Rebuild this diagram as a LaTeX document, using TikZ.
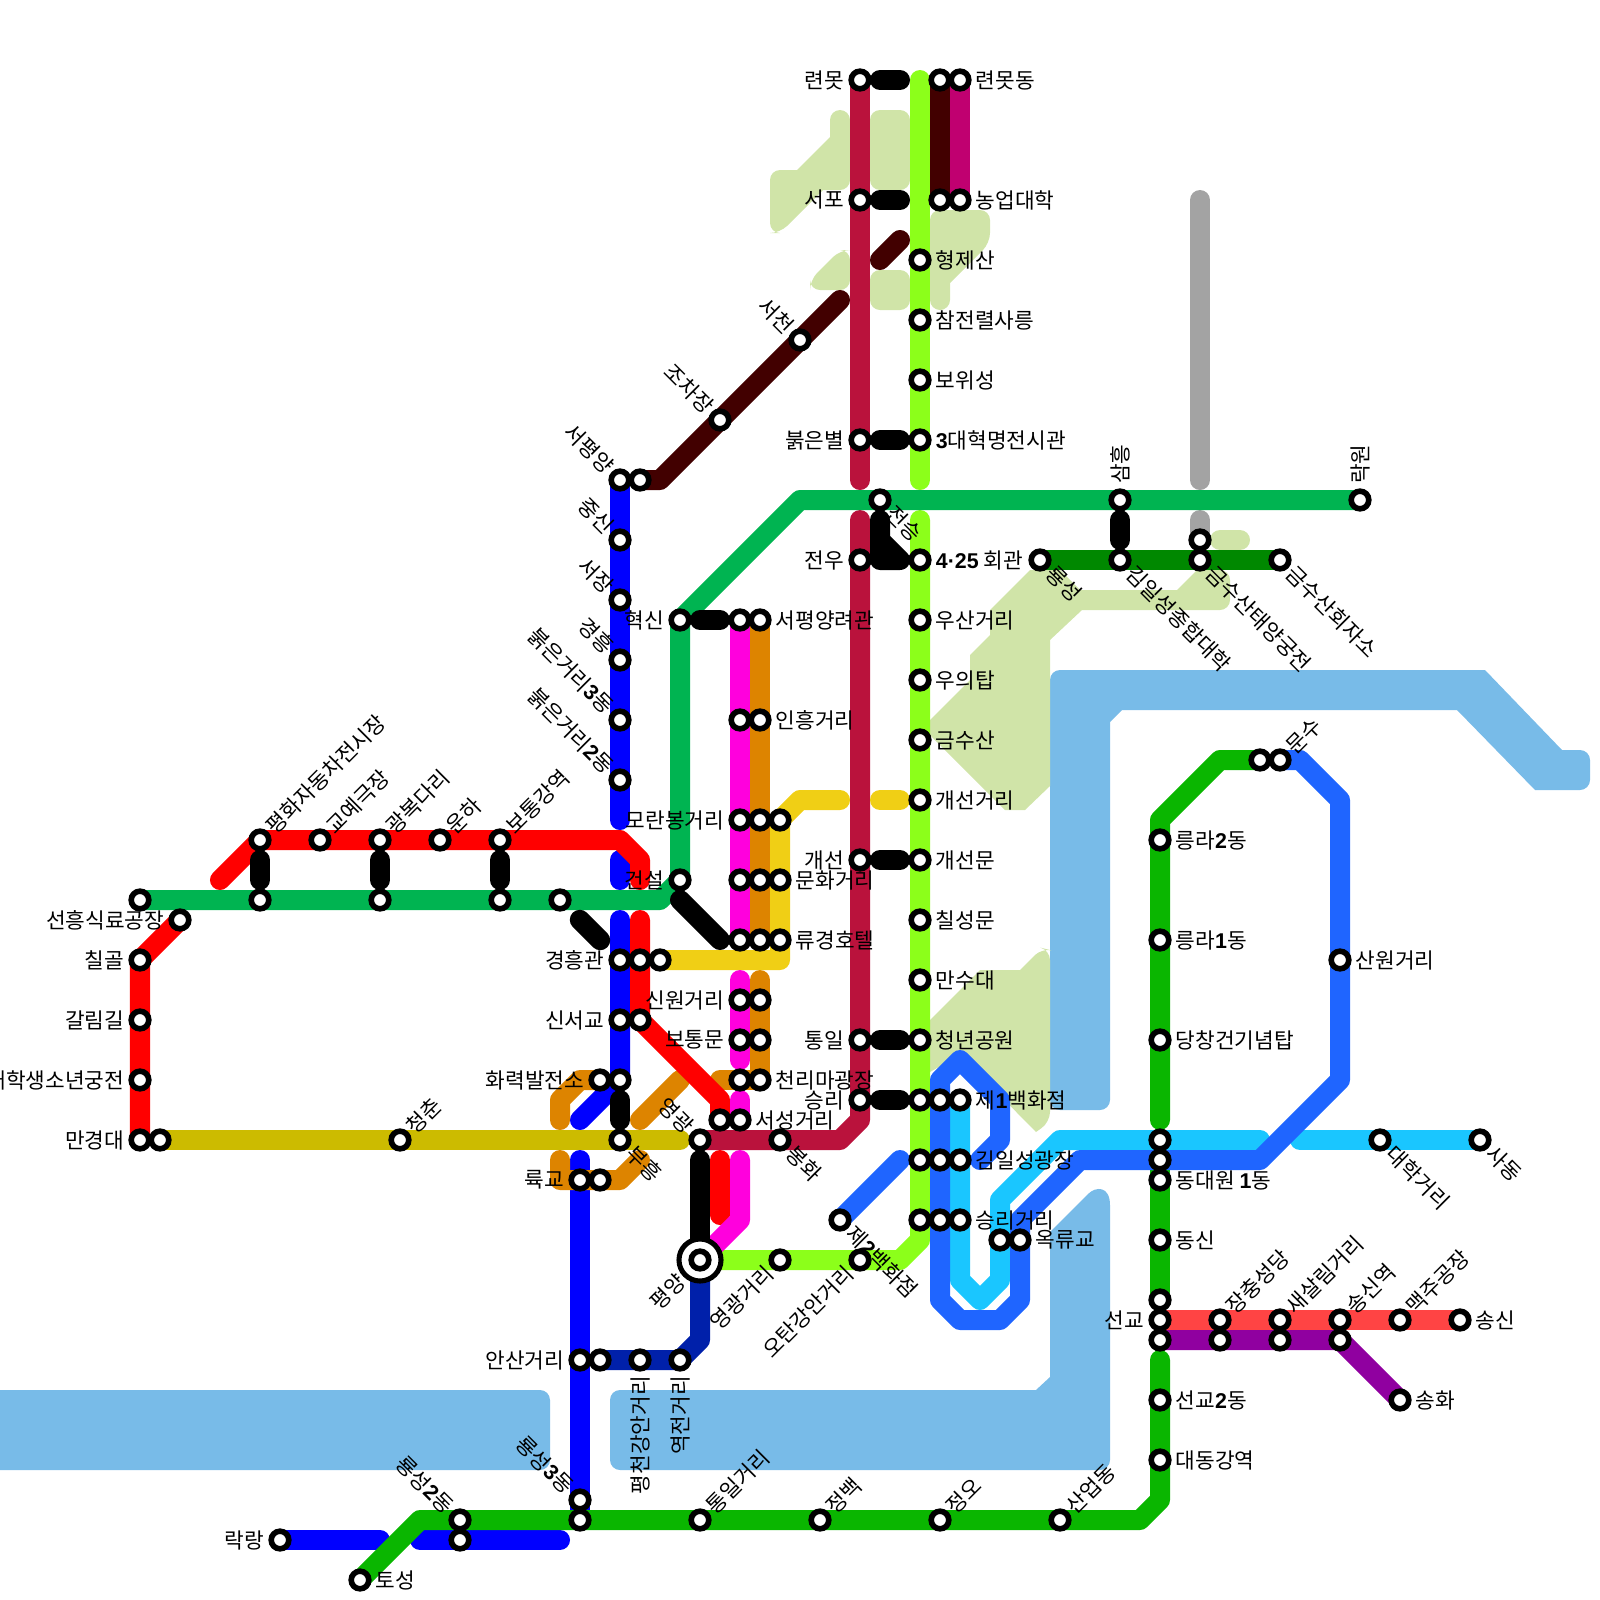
\documentclass[tikz,border=0pt]{standalone}
\usepackage{fontspec}
\setmainfont{Noto Sans CJK KR}
\newfontfamily\latnfont{Liberation Sans}
\newcommand{\dgt}[1]{{\latnfont\bfseries #1}}
\usetikzlibrary{backgrounds}
\definecolor{water}{RGB}{120,187,232}
\definecolor{park}{RGB}{208,228,168}
\definecolor{crimsonln}{RGB}{186,18,60}
\definecolor{limeln}{RGB}{140,255,26}
\definecolor{maroonln}{RGB}{66,0,0}
\definecolor{plumln}{RGB}{192,0,112}
\definecolor{greenln}{RGB}{0,180,81}
\definecolor{blueln}{RGB}{0,0,255}
\definecolor{redln}{RGB}{255,0,0}
\definecolor{magentaln}{RGB}{255,0,221}
\definecolor{orangeln}{RGB}{221,132,0}
\definecolor{yellowln}{RGB}{240,207,21}
\definecolor{oliveln}{RGB}{204,187,0}
\definecolor{royalln}{RGB}{31,101,255}
\definecolor{cyanln}{RGB}{26,198,255}
\definecolor{forestln}{RGB}{0,136,0}
\definecolor{grassln}{RGB}{10,182,0}
\definecolor{coralln}{RGB}{255,68,68}
\definecolor{purpleln}{RGB}{144,0,160}
\definecolor{navyln}{RGB}{0,32,170}
\definecolor{grayln}{RGB}{163,163,163}

\begin{document}
\begin{tikzpicture}[x=0.025cm, y=-0.025cm,
	st/.style={circle, draw=black, fill=white, line width=4pt, inner sep=0pt, minimum size=0.44cm},
	stbig/.style={circle, draw=black, fill=white, line width=3.6pt, inner sep=0pt, minimum size=1.05cm},
	ln/.style={line width=0.5cm, line cap=round, line join=round},
	lnk/.style={ln, black, shorten >=0.5cm, shorten <=0.5cm},
	lbl/.style={inner sep=0pt, font=\fontsize{15.2pt}{17pt}\selectfont},
	lblR/.style={lbl, anchor=west, xshift=0.39cm},
	lblL/.style={lbl, anchor=east, xshift=-0.39cm},
	lblUR/.style={lbl, anchor=west, xshift=0.25cm, yshift=0.25cm, rotate=45},
	lblDR/.style={lbl, anchor=west, xshift=0.25cm, yshift=-0.25cm, rotate=-45},
	lblUL/.style={lbl, anchor=east, xshift=-0.25cm, yshift=0.25cm, rotate=-45},
	lblDL/.style={lbl, anchor=east, xshift=-0.25cm, yshift=-0.25cm, rotate=45},
	lblUp/.style={lbl, anchor=west, yshift=0.4cm, rotate=90},
	lblDn/.style={lbl, anchor=east, yshift=-0.4cm, rotate=90},
	rc/.style={rounded corners=0.25cm},
	sc/.style={sharp corners}]
	\useasboundingbox (0,0) rectangle (1600,1600);

	% crimson line
	\node[st] (cr1) at (860,80) {};    \node[lblL] (tcr1) at (cr1) {련못};
	\node[st] (cr2) at (860,200) {};   \node[lblL] (tcr2) at (cr2) {서포};
	\node[st] (cr3) at (860,440) {};   \node[lblL] (tcr3) at (cr3) {붉은별};
	\node[st] (cr4) at (860,560) {};   \node[lblL] (tcr4) at (cr4) {전우};
	\node[st] (cr5) at (860,860) {};   \node[lblL] (tcr5) at (cr5) {개선};
	\node[st] (cr6) at (860,1040) {};  \node[lblL] (tcr6) at (cr6) {통일};
	\node[st] (cr7) at (860,1100) {};  \node[lblL] (tcr7) at (cr7) {승리};
	\node[st] (cr8) at (780,1140) {};  \node[lblDR] (tcr8) at (cr8) {봉화};
	\node[st] (cr9) at (700,1140) {};  \node[lblUL] (tcr9) at (cr9) {영광};

	% lime line
	\node[st] (li1) at (920,260) {};   \node[lblR] (tli1) at (li1) {형제산};
	\node[st] (li2) at (920,320) {};   \node[lblR] (tli2) at (li2) {참전렬사릉};
	\node[st] (li3) at (920,380) {};   \node[lblR] (tli3) at (li3) {보위성};
	\node[st] (li4) at (920,440) {};   \node[lblR] (tli4) at (li4) {\dgt{3}대혁명전시관};
	\node[st] (li5) at (920,560) {};   \node[lblR] (tli5) at (li5) {\dgt{4·25} 회관};
	\node[st] (li6) at (920,620) {};   \node[lblR] (tli6) at (li6) {우산거리};
	\node[st] (li7) at (920,680) {};   \node[lblR] (tli7) at (li7) {우의탑};
	\node[st] (li8) at (920,740) {};   \node[lblR] (tli8) at (li8) {금수산};
	\node[st] (li9) at (920,800) {};   \node[lblR] (tli9) at (li9) {개선거리};
	\node[st] (li10) at (920,860) {};  \node[lblR] (tli10) at (li10) {개선문};
	\node[st] (li11) at (920,920) {};  \node[lblR] (tli11) at (li11) {칠성문};
	\node[st] (li12) at (920,980) {};  \node[lblR] (tli12) at (li12) {만수대};
	\node[st] (li13) at (920,1040) {}; \node[lblR] (tli13) at (li13) {청년공원};
	\node[st] (li14) at (920,1100) {};
	\node[st] (li15) at (920,1160) {};
	\node[st] (li16) at (920,1220) {};
	\node[st] (li17) at (860,1260) {}; \node[lblDL] (tli17) at (li17) {오탄강안거리};
	\node[st] (li18) at (780,1260) {}; \node[lblDL] (tli18) at (li18) {영광거리};
	\node[stbig] (pyo) at (700,1260) {};
	\node[st] (py) at (pyo) {};        \node[lbl, anchor=east, xshift=-0.45cm, yshift=-0.45cm, rotate=45] (tpy) at (py) {평양};

	% maroon and plum
	\node[st] (ma1) at (940,80) {};
	\node[st] (ma2) at (940,200) {};
	\node[st] (pl1) at (960,80) {};    \node[lblR] (tpl1) at (pl1) {련못동};
	\node[st] (pl2) at (960,200) {};   \node[lblR] (tpl2) at (pl2) {농업대학};
	\node[st] (ma3) at (800,340) {};   \node[lblUL] (tma3) at (ma3) {서천};
	\node[st] (ma4) at (720,420) {};   \node[lblUL] (tma4) at (ma4) {조차장};
	\node[st] (ma5) at (640,480) {};

	% blue line
	\node[st] (bl1) at (620,480) {};   \node[lblUL] (tbl1) at (bl1) {서평양};
	\node[st] (bl2) at (620,540) {};   \node[lblUL] (tbl2) at (bl2) {중신};
	\node[st] (bl3) at (620,600) {};   \node[lblUL] (tbl3) at (bl3) {서장};
	\node[st] (bl4) at (620,660) {};   \node[lblUL] (tbl4) at (bl4) {경흥};
	\node[st] (bl5) at (620,720) {};   \node[lblUL] (tbl5) at (bl5) {붉은거리\dgt{3}동};
	\node[st] (bl6) at (620,780) {};   \node[lblUL] (tbl6) at (bl6) {붉은거리\dgt{2}동};
	\node[st] (bl7) at (620,960) {};   \node[lblL] (tbl7) at (bl7) {경흥관};
	\node[st] (bl8) at (620,1020) {};  \node[lblL] (tbl8) at (bl8) {신서교};
	\node[st] (bl9) at (620,1080) {};
	\node[st] (bl10) at (620,1140) {}; \node[lblDR] (tbl10) at (bl10) {부흥};
	\node[st] (bl11) at (580,1180) {}; \node[lblL] (tbl11) at (bl11) {륙교};
	\node[st] (bl12) at (580,1360) {}; \node[lblL] (tbl12) at (bl12) {안산거리};
	\node[st] (bl13) at (580,1500) {}; \node[lblUL] (tbl13) at (bl13) {룡성\dgt{3}동};
	\node[st] (bl14) at (460,1540) {};
	\node[st] (bl15) at (280,1540) {}; \node[lblL] (tbl15) at (bl15) {락랑};

	% red line
	\node[st] (rd1) at (260,840) {};   \node[lblUR] (trd1) at (rd1) {평화자동차전시장};
	\node[st] (rd2) at (320,840) {};   \node[lblUR] (trd2) at (rd2) {교예극장};
	\node[st] (rd3) at (380,840) {};   \node[lblUR] (trd3) at (rd3) {광복다리};
	\node[st] (rd4) at (440,840) {};   \node[lblUR] (trd4) at (rd4) {운하};
	\node[st] (rd5) at (500,840) {};   \node[lblUR] (trd5) at (rd5) {보통강역};
	\node[st] (rd6) at (640,960) {};
	\node[st] (rd7) at (640,1020) {};
	\node[st] (rd8) at (720,1120) {};
	\node[st] (rd9) at (180,920) {};   \node[lblL] (trd9) at (rd9) {선흥식료공장};
	\node[st] (rd10) at (140,960) {};  \node[lblL] (trd10) at (rd10) {칠골};
	\node[st] (rd11) at (140,1020) {}; \node[lblL] (trd11) at (rd11) {갈림길};
	\node[st] (rd12) at (140,1080) {}; \node[lblL] (trd12) at (rd12) {만경대학생소년궁전};
	\node[st] (rd13) at (140,1140) {}; \node[lblL] (trd13) at (rd13) {만경대};

	% green line
	\node[st] (gn1) at (140,900) {};
	\node[st] (gn2) at (260,900) {};
	\node[st] (gn3) at (380,900) {};
	\node[st] (gn4) at (500,900) {};
	\node[st] (gn5) at (560,900) {};
	\node[st] (gn6) at (680,880) {};   \node[lblL] (tgn6) at (gn6) {건설};
	\node[st] (gn7) at (680,620) {};   \node[lblL] (tgn7) at (gn7) {혁신};
	\node[st] (gn8) at (880,500) {};   \node[lblDR] (tgn8) at (gn8) {전승};
	\node[st] (gn9) at (1120,500) {};  \node[lblUp] (tgn9) at (gn9) {삼흥};
	\node[st] (gn10) at (1360,500) {}; \node[lblUp] (tgn10) at (gn10) {락원};

	% magenta, orange, yellow
	\node[st] (mg1) at (740,620) {};
	\node[st] (mg2) at (740,720) {};
	\node[st] (mg3) at (740,820) {};   \node[lblL] (tmg3) at (mg3) {모란봉거리};
	\node[st] (mg4) at (740,880) {};
	\node[st] (mg5) at (740,940) {};
	\node[st] (mg6) at (740,1000) {};  \node[lblL] (tmg6) at (mg6) {신원거리};
	\node[st] (mg7) at (740,1040) {};  \node[lblL] (tmg7) at (mg7) {보통문};
	\node[st] (mg8) at (740,1080) {};
	\node[st] (mg9) at (740,1120) {};  \node[lblR] (tmg9) at (mg9) {서성거리};
	\node[st] (or1) at (760,620) {};   \node[lblR] (tor1) at (or1) {서평양려관};
	\node[st] (or2) at (760,720) {};   \node[lblR] (tor2) at (or2) {인흥거리};
	\node[st] (or3) at (760,820) {};
	\node[st] (or4) at (760,880) {};
	\node[st] (or5) at (760,940) {};
	\node[st] (or6) at (760,1000) {};
	\node[st] (or7) at (760,1040) {};
	\node[st] (or8) at (760,1080) {};  \node[lblR] (tor8) at (or8) {천리마광장};
	\node[st] (or9) at (600,1080) {};  \node[lblL] (tor9) at (or9) {화력발전소};
	\node[st] (or10) at (600,1180) {};
	\node[st] (yl1) at (780,820) {};
	\node[st] (yl2) at (780,880) {};   \node[lblR] (tyl2) at (yl2) {문화거리};
	\node[st] (yl3) at (780,940) {};   \node[lblR] (tyl3) at (yl3) {류경호텔};
	\node[st] (yl4) at (660,960) {};

	% olive, navy
	\node[st] (ol1) at (160,1140) {};
	\node[st] (ol2) at (400,1140) {};  \node[lblUR] (tol2) at (ol2) {청춘};
	\node[st] (nv1) at (600,1360) {};
	\node[st] (nv2) at (640,1360) {};  \node[lblDn] (tnv2) at (nv2) {평천강안거리};
	\node[st] (nv3) at (680,1360) {};  \node[lblDn] (tnv3) at (nv3) {역전거리};

	% royal blue, cyan
	\node[st] (rb1) at (840,1220) {};  \node[lblDR] (trb1) at (rb1) {제\dgt{2}백화점};
	\node[st] (rb2) at (940,1100) {};
	\node[st] (rb3) at (940,1160) {};
	\node[st] (rb4) at (940,1220) {};
	\node[st] (rb5) at (1020,1240) {}; \node[lblR] (trb5) at (rb5) {옥류교};
	\node[st] (rb6) at (1160,1160) {};
	\node[st] (rb7) at (1340,960) {};  \node[lblR] (trb7) at (rb7) {산원거리};
	\node[st] (rb8) at (1280,760) {};  \node[lblUR] (trb8) at (rb8) {문수};
	\node[st] (cy1) at (960,1100) {};  \node[lblR] (tcy1) at (cy1) {제\dgt{1}백화점};
	\node[st] (cy2) at (960,1160) {};  \node[lblR] (tcy2) at (cy2) {김일성광장};
	\node[st] (cy3) at (960,1220) {};  \node[lblR] (tcy3) at (cy3) {승리거리};
	\node[st] (cy4) at (1000,1240) {};
	\node[st] (cy5) at (1160,1140) {};
	\node[st] (cy6) at (1380,1140) {}; \node[lblDR] (tcy6) at (cy6) {대학거리};
	\node[st] (cy7) at (1480,1140) {}; \node[lblDR] (tcy7) at (cy7) {사동};

	% forest and gray
	\node[st] (fo1) at (1040,560) {};  \node[lblDR] (tfo1) at (fo1) {룡성};
	\node[st] (fo2) at (1120,560) {};  \node[lblDR] (tfo2) at (fo2) {김일성종합대학};
	\node[st] (fo3) at (1200,560) {};  \node[lblDR] (tfo3) at (fo3) {금수산태양궁전};
	\node[st] (fo4) at (1280,560) {};  \node[lblDR] (tfo4) at (fo4) {금수산회자소};
	\node[st] (gy1) at (1200,540) {};

	% grass line
	\node[st] (gr1) at (1260,760) {};
	\node[st] (gr2) at (1160,840) {};  \node[lblR] (tgr2) at (gr2) {릉라\dgt{2}동};
	\node[st] (gr3) at (1160,940) {};  \node[lblR] (tgr3) at (gr3) {릉라\dgt{1}동};
	\node[st] (gr4) at (1160,1040) {}; \node[lblR] (tgr4) at (gr4) {당창건기념탑};
	\node[st] (gr5) at (1160,1180) {}; \node[lblR] (tgr5) at (gr5) {동대원 \dgt{1}동};
	\node[st] (gr6) at (1160,1240) {}; \node[lblR] (tgr6) at (gr6) {동신};
	\node[st] (gr7) at (1160,1300) {};
	\node[st] (gr8) at (1160,1400) {}; \node[lblR] (tgr8) at (gr8) {선교\dgt{2}동};
	\node[st] (gr9) at (1160,1460) {}; \node[lblR] (tgr9) at (gr9) {대동강역};
	\node[st] (gr10) at (1060,1520) {}; \node[lblUR] (tgr10) at (gr10) {산업동};
	\node[st] (gr11) at (940,1520) {}; \node[lblUR] (tgr11) at (gr11) {정오};
	\node[st] (gr12) at (820,1520) {}; \node[lblUR] (tgr12) at (gr12) {정백};
	\node[st] (gr13) at (700,1520) {}; \node[lblUR] (tgr13) at (gr13) {통일거리};
	\node[st] (gr14) at (580,1520) {};
	\node[st] (gr15) at (460,1520) {}; \node[lblUL] (tgr15) at (gr15) {룡성\dgt{2}동};
	\node[st] (gr16) at (360,1580) {}; \node[lblR] (tgr16) at (gr16) {토성};

	% coral and purple
	\node[st] (co1) at (1160,1320) {}; \node[lblL] (tco1) at (co1) {선교};
	\node[st] (co2) at (1220,1320) {}; \node[lblUR] (tco2) at (co2) {장충성당};
	\node[st] (co3) at (1280,1320) {}; \node[lblUR] (tco3) at (co3) {새살림거리};
	\node[st] (co4) at (1340,1320) {}; \node[lblUR] (tco4) at (co4) {송신역};
	\node[st] (co5) at (1400,1320) {}; \node[lblUR] (tco5) at (co5) {맥주공장};
	\node[st] (co6) at (1460,1320) {}; \node[lblR] (tco6) at (co6) {송신};
	\node[st] (pu1) at (1160,1340) {};
	\node[st] (pu2) at (1220,1340) {};
	\node[st] (pu3) at (1280,1340) {};
	\node[st] (pu4) at (1340,1340) {};
	\node[st] (pu5) at (1400,1400) {}; \node[lblR] (tpu5) at (pu5) {송화};

	% free line ends
	\coordinate (crA) at (860,480);
	\coordinate (crB) at (860,520);
	\coordinate (liA) at (920,80);
	\coordinate (liB) at (920,200);
	\coordinate (liC) at (920,480);
	\coordinate (liD) at (920,520);
	\coordinate (maA) at (840,300);
	\coordinate (maB) at (880,260);
	\coordinate (maC) at (900,240);
	\coordinate (blA) at (620,820);
	\coordinate (blB) at (620,860);
	\coordinate (blC) at (620,880);
	\coordinate (blD) at (620,920);
	\coordinate (blE) at (580,1120);
	\coordinate (blF) at (580,1160);
	\coordinate (blG) at (380,1540);
	\coordinate (blH) at (420,1540);
	\coordinate (blI) at (560,1540);
	\coordinate (rdA) at (220,880);
	\coordinate (rdB) at (640,880);
	\coordinate (rdC) at (640,920);
	\coordinate (rdD) at (720,1160);
	\coordinate (rdE) at (720,1215);
	\coordinate (mgA) at (740,980);
	\coordinate (mgB) at (740,1060);
	\coordinate (mgC) at (740,1100);
	\coordinate (mgD) at (740,1160);
	\coordinate (orA) at (760,980);
	\coordinate (orB) at (720,1080);
	\coordinate (orC) at (560,1120);
	\coordinate (orD) at (560,1160);
	\coordinate (orE) at (640,1160);
	\coordinate (orF) at (640,1120);
	\coordinate (orG) at (680,1080);
	\coordinate (ylA) at (840,800);
	\coordinate (ylB) at (880,800);
	\coordinate (ylC) at (900,800);
	\coordinate (olA) at (680,1140);
	\coordinate (rbA) at (900,1160);
	\coordinate (rbB) at (980,1160);
	\coordinate (cyA) at (1260,1140);
	\coordinate (cyB) at (1300,1140);
	\coordinate (grA) at (1160,1120);
	\coordinate (grB) at (1160,1360);
	\coordinate (gyA) at (1200,200);
	\coordinate (gyB) at (1200,480);
	\coordinate (gyC) at (1200,520);
	\coordinate (bkA) at (680,900);
	\coordinate (bkB) at (720,940);
	\coordinate (bkC) at (880,520);
	\coordinate (bkD) at (900,560);

	\begin{scope}[on background layer]
		% water
		\fill[water, rc] (1050,670) [sc] -- (1485,670) -- (1562,750) [rc] -- (1590,750) -- (1590,790) [sc] -- (1535,790) -- (1457,710) -- (1122,710) -- (1110,722) [rc] -- (1110,1110) -- (1050,1110) -- cycle;
		\fill[water, rc] (610,1390) [sc] -- (1036,1390) -- (1050,1377) -- (1050,1232) -- (1088,1194) .. controls (1096,1186) and (1110,1186) .. (1110,1205) [rc] -- (1110,1470) -- (610,1470) -- cycle;
		\fill[water, rc] (-20,1390) -- (550,1390) -- (550,1470) -- (-20,1470) -- cycle;

		% parks
		\fill[park, rc] (770,170) [sc] -- (797,170) -- (830,137) [rc] -- (830,110) -- (850,110) -- (850,190) [sc] -- (823,190) [rc] -- (780,233) -- (770,233) -- cycle;
		\fill[park, rc] (870,110) rectangle (910,190);
		\fill[park, rc] (870,270) rectangle (910,310);
		\fill[park, rc] (840,250) -- (850,250) -- (850,290) -- (810,290) -- (810,280) -- cycle;
		\fill[park, rc] (930,210) -- (990,210) -- (990,243) [sc] -- (950,283) [rc] -- (950,310) -- (930,310) -- cycle;
		\fill[park, sc] (1030,570) -- (1060,570) -- (1080,590) -- (1177,590) -- (1197,570) [rc] -- (1230,570) -- (1230,610) [sc] -- (1082,610) -- (1050,640) -- (1050,786) -- (1025,810) -- (1005,810) -- (930,735) -- (930,720) -- (970,680) -- (970,655) -- (990,635) -- (990,610) -- cycle;
		\fill[park, sc] (930,1020) -- (980,970) -- (1020,970) [rc] -- (1042,948) -- (1050,950) -- (1050,1122) [sc] -- (1036,1132) -- (960,1055) -- (930,1072) -- cycle;
		\draw[ln, park] (1220,540) -- (1240,540);

		% lines
		\draw[ln, limeln] (liA) -- (liC);
		\draw[ln, limeln] (liD) -- (li16.center) -- (920,1240) -- (900,1260) -- (py.center);
		\draw[ln, crimsonln] (cr1.center) -- (crA);
		\draw[ln, crimsonln] (crB) -- (860,1120) -- (840,1140) -- (cr9.center);
		\draw[ln, maroonln] (ma1.center) -- (ma2.center);
		\draw[ln, plumln] (pl1.center) -- (pl2.center);
		\draw[ln, maroonln] (ma5.center) -- (660,480) -- (maA);
		\draw[ln, maroonln] (maB) -- (maC);
		\draw[ln, grayln] (gyA) -- (gyB);
		\draw[ln, grayln] (gyC) -- (gy1.center);
		\draw[ln, greenln] (gn1.center) -- (660,900) -- (gn6.center) -- (gn7.center) -- (800,500) -- (gn10.center);
		\draw[ln, blueln] (bl1.center) -- (blA);
		\draw[ln, blueln] (blB) -- (blC);
		\draw[ln, blueln] (blD) -- (bl9.center) -- (blE);
		\draw[ln, blueln] (blF) -- (bl13.center) -- (gr14.center);
		\draw[ln, blueln] (bl15.center) -- (blG);
		\draw[ln, blueln] (blH) -- (blI);
		\draw[ln, oliveln] (ol1.center) -- (olA);
		\draw[ln, orangeln] (or1.center) -- (or5.center);
		\draw[ln, orangeln] (orA) -- (or8.center) -- (orB);
		\draw[ln, orangeln] (or9.center) -- (580,1080) -- (560,1100) -- (orC);
		\draw[ln, orangeln] (orD) -- (560,1180) -- (620,1180) -- (orE);
		\draw[ln, orangeln] (orF) -- (orG);
		\draw[ln, yellowln] (yl4.center) -- (780,960) -- (780,820) -- (800,800) -- (ylA);
		\draw[ln, yellowln] (ylB) -- (ylC);
		\draw[ln, redln] (rdA) -- (rd1.center) -- (620,840) -- (640,860) -- (rdB);
		\draw[ln, redln] (rdC) -- (rd7.center) -- (720,1100) -- (rd8.center);
		\draw[ln, redln] (rdD) -- (rdE);
		\draw[ln, redln] (rd9.center) -- (rd10.center) -- (rd13.center);
		\draw[ln, magentaln] (mg1.center) -- (mg5.center);
		\draw[ln, magentaln] (mgA) -- (mgB);
		\draw[ln, magentaln] (mgC) -- (mg9.center);
		\draw[ln, magentaln] (mgD) -- (740,1220) -- (py.center);
		\draw[ln, navyln] (py.center) -- (700,1340) -- (680,1360) -- (nv1.center);
		\draw[ln, royalln] (rb1.center) -- (rbA);
		\draw[ln, forestln] (fo1.center) -- (fo4.center);
		\draw[ln, grassln] (gr1.center) -- (1220,760) -- (1160,820) -- (grA);
		\draw[ln, grassln] (rb6.center) -- (gr7.center);
		\draw[ln, grassln] (grB) -- (1160,1500) -- (1140,1520) -- (420,1520) -- (gr16.center);
		\draw[ln, cyanln] (cy1.center) -- (960,1280) -- (980,1300) -- (1000,1280) -- (1000,1200) -- (1060,1140) -- (cyA);
		\draw[ln, cyanln] (cyB) -- (cy7.center);
		\draw[ln, royalln] (rbB) -- (1000,1140) -- (1000,1100) -- (960,1060) -- (940,1080) -- (940,1300) -- (960,1320) -- (1000,1320) -- (1020,1300) -- (rb5.center) -- (1020,1220) -- (1080,1160) -- (1260,1160) -- (1340,1080) -- (1340,800) -- (1300,760) -- (rb8.center);
		\draw[ln, coralln] (co1.center) -- (co6.center);
		\draw[ln, purpleln] (pu1.center) -- (pu4.center) -- (pu5.center);

		% black links
		\draw[lnk] (cr1.center) -- (liA);
		\draw[lnk] (cr2.center) -- (liB);
		\draw[lnk] (cr3.center) -- (li4.center);
		\draw[lnk] (cr5.center) -- (li10.center);
		\draw[lnk] (cr6.center) -- (li13.center);
		\draw[lnk] (cr7.center) -- (li14.center);
		\draw[lnk] (rd1.center) -- (gn2.center);
		\draw[lnk] (rd3.center) -- (gn3.center);
		\draw[lnk] (rd5.center) -- (gn4.center);
		\draw[lnk] (gn9.center) -- (fo2.center);
		\draw[lnk] (gn7.center) -- (mg1.center);
		\draw[lnk] (bl9.center) -- (bl10.center);
		\draw[lnk] (cr9.center) -- (py.center);
		\draw[lnk, shorten >=0.7cm, shorten <=0.7cm] (gn5.center) -- (bl7.center);
		\draw[ln, black] (bkA) -- (bkB);
		\draw[ln, black] (bkC) -- (880,560) -- (bkD) -- (880,540);
	\end{scope}
\end{tikzpicture}
\end{document}
